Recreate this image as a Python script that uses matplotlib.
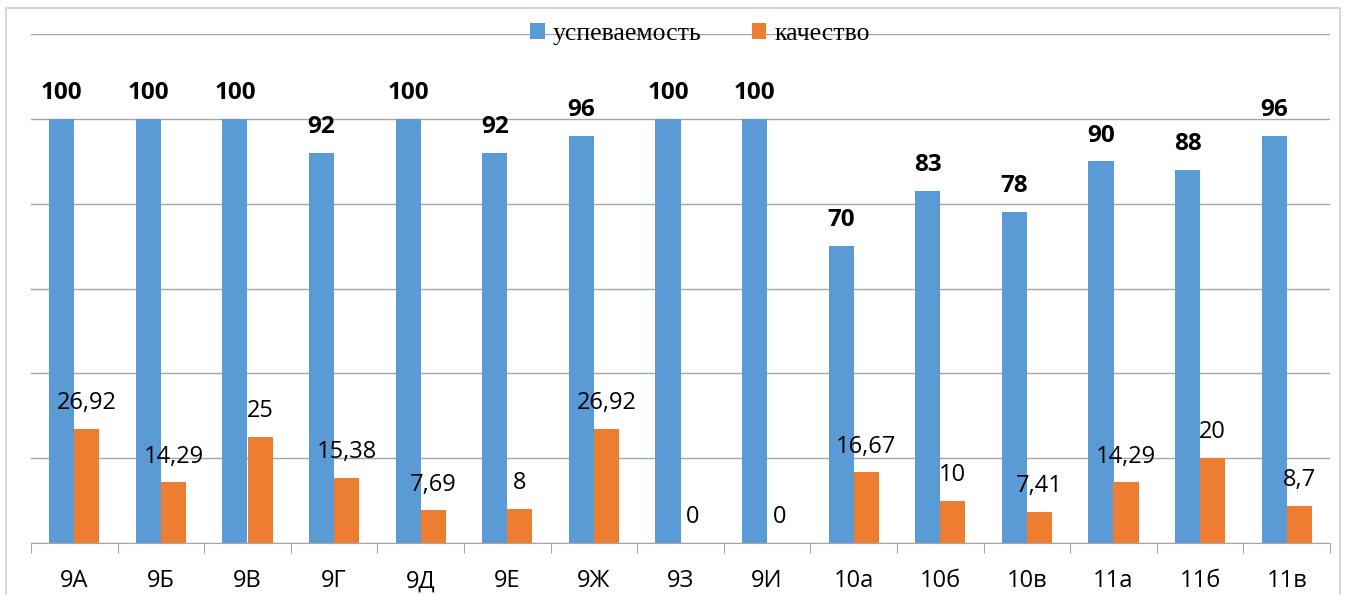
import numpy as np
import matplotlib.pyplot as plt
from matplotlib.patches import Rectangle

classes = ["9А", "9Б", "9В", "9Г", "9Д", "9Е", "9Ж", "9З", "9И",
           "10а", "10б", "10в", "11а", "11б", "11в"]
uspev = [100, 100, 100, 92, 100, 92, 96, 100, 100, 70, 83, 78, 90, 88, 96]
kachestvo = [26.92, 14.29, 25, 15.38, 7.69, 8, 26.92, 0, 0, 16.67, 10, 7.41, 14.29, 20, 8.7]
series_names = ["успеваемость", "качество"]

BLUE = "#5B9BD5"
ORANGE = "#ED7D31"
GRID = "#a6a6a6"
SANS = "Open Sans"


def main():
    fig = plt.figure(figsize=(13.57, 5.95), dpi=100)
    ax = fig.add_axes([31 / 1357, 1 - 543 / 595, (1330 - 31) / 1357, (543 - 34) / 595])

    # outer chart border
    fig.patches.append(Rectangle((6 / 1357, -0.1), (1340 - 6) / 1357, 1.1 - 8.5 / 595,
                                 transform=fig.transFigure, fill=False,
                                 edgecolor="#d0d0d0", lw=1.2))

    x = np.arange(len(classes))
    w = 0.29
    b1 = ax.bar(x - w / 2, uspev, w, color=BLUE, label=series_names[0], zorder=2)
    b2 = ax.bar(x + w / 2, kachestvo, w, color=ORANGE, label=series_names[1], zorder=2)

    for rect, v in zip(b1, uspev):
        ax.annotate(f"{v:g}", (rect.get_x() + rect.get_width() / 2, v),
                    xytext=(0, 18.5), textcoords="offset points",
                    ha="center", va="center", fontsize=17.5, fontweight="bold",
                    family=SANS)
    for rect, v in zip(b2, kachestvo):
        ax.annotate(f"{v:g}".replace(".", ","), (rect.get_x() + rect.get_width() / 2, v),
                    xytext=(0, 18.5), textcoords="offset points",
                    ha="center", va="center", fontsize=17, family=SANS)

    ax.set_xlim(-0.5, len(classes) - 0.5)
    ax.set_ylim(0, 120)
    ax.set_yticks(np.arange(0, 121, 20))
    ax.yaxis.grid(True, color=GRID, lw=1, zorder=0)
    ax.set_axisbelow(True)
    ax.tick_params(axis="y", left=False, labelleft=False)

    ax.set_xticks(np.arange(-0.5, len(classes)), labels=[])
    ax.tick_params(axis="x", which="major", length=7, color=GRID, direction="out")
    ax.set_xticks(x, labels=classes, minor=True)
    ax.tick_params(axis="x", which="minor", length=0, pad=19, labelsize=17)
    for t in ax.get_xticklabels(minor=True):
        t.set_family(SANS)

    for s in ["left", "right", "top"]:
        ax.spines[s].set_visible(False)
    ax.spines["bottom"].set_color(GRID)

    fig.legend(loc="center", bbox_to_anchor=(700 / 1357, 1 - 34 / 595), ncol=2,
               frameon=False, prop={"family": "Liberation Serif", "size": 18.5},
               handlelength=0.55, handleheight=0.55, handletextpad=0.3,
               columnspacing=2.0)

    fig.savefig("out.png", dpi=100)
    plt.close(fig)


if __name__ == "__main__":
    main()
